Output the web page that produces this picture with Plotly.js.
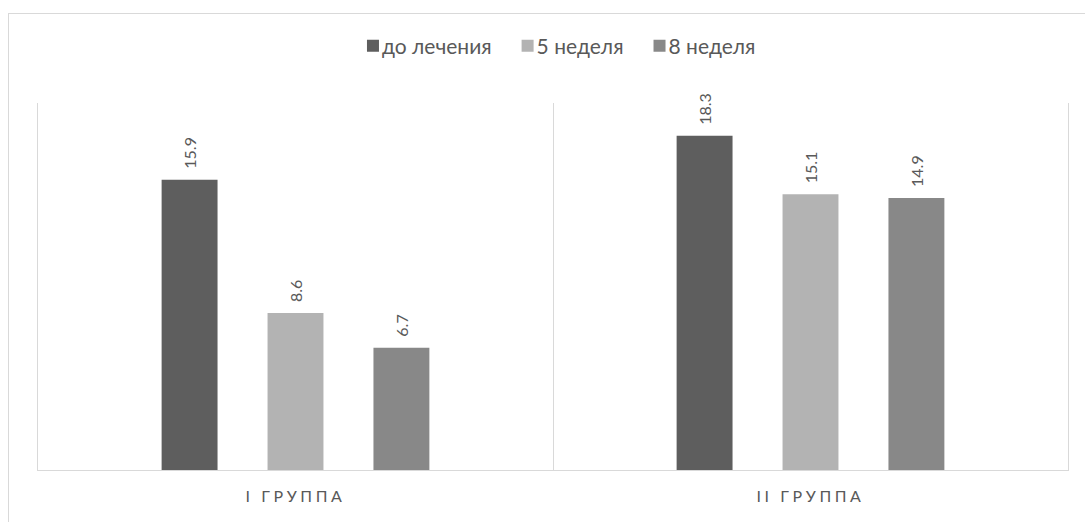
<!DOCTYPE html>
<html>
<head>
<meta charset="utf-8">
<script src="https://cdn.plot.ly/plotly-3.0.1.min.js"></script>
<style>
  html, body { margin: 0; padding: 0; background: #fff; }
  #wrap { position: relative; width: 1085px; height: 522px; overflow: hidden; }
  #chart { position: absolute; left: 0; top: 0; width: 1085px; height: 522px; }
  #frame { position: absolute; left: 8px; top: 13px; width: 1076px; height: 540px;
           border: 1px solid #d9d9d9; pointer-events: none; }
  .xtick text { letter-spacing: 3.6px; }
  .legend .legendtext { transform: translateX(-11px); }
</style>
</head>
<body>
<div id="wrap">
  <div id="chart"></div>
  <div id="frame"></div>
</div>
<script>
const categories = ["I ГРУППА", "II ГРУППА"];
const seriesNames = ["до лечения", "5 неделя", "8 неделя"];
const beforeTreatment = [15.9, 18.3];
const week5 = [8.6, 15.1];
const week8 = [6.7, 14.9];
const seriesColors = ["#5e5e5e", "#b3b3b3", "#888888"];

const values = [beforeTreatment, week5, week8];
const FONT = "Lato, 'Open Sans', sans-serif";

const traces = values.map((v, i) => ({
  type: "bar",
  name: seriesNames[i],
  x: categories,
  y: v,
  marker: { color: seriesColors[i] },
  text: v.map(n => "\u2002" + n.toFixed(1)),
  textposition: "outside",
  textangle: -90,
  textfont: { family: FONT, size: 16, color: "#595959" },
  cliponaxis: false,
  hoverinfo: "none"
}));

const layout = {
  width: 1085,
  height: 522,
  margin: { l: 38, r: 17, t: 103, b: 52 },
  paper_bgcolor: "rgba(0,0,0,0)",
  plot_bgcolor: "rgba(0,0,0,0)",
  barmode: "group",
  bargap: 0.383,
  bargroupgap: 0.472,
  showlegend: true,
  legend: {
    orientation: "h",
    x: 0.5092, xanchor: "center",
    y: 1.155, yanchor: "middle",
    font: { family: FONT, size: 21, color: "#595959" },
    itemwidth: 30,
    traceorder: "normal"
  },
  xaxis: {
    type: "category",
    range: [-0.5, 1.5],
    tickson: "boundaries",
    showgrid: true,
    gridcolor: "#d9d9d9",
    gridwidth: 1,
    showline: true,
    linecolor: "#d9d9d9",
    linewidth: 1,
    ticks: "",
    ticklabelstandoff: 12,
    tickfont: { family: FONT, size: 16, color: "#595959" },
    zeroline: false,
    fixedrange: true
  },
  yaxis: {
    range: [0, 20.1],
    showgrid: false,
    zeroline: false,
    showline: true,
    mirror: true,
    linecolor: "#d9d9d9",
    linewidth: 1,
    showticklabels: false,
    ticks: "",
    fixedrange: true
  }
};

Plotly.newPlot("chart", traces, layout, { displayModeBar: false, staticPlot: true });
</script>
</body>
</html>
